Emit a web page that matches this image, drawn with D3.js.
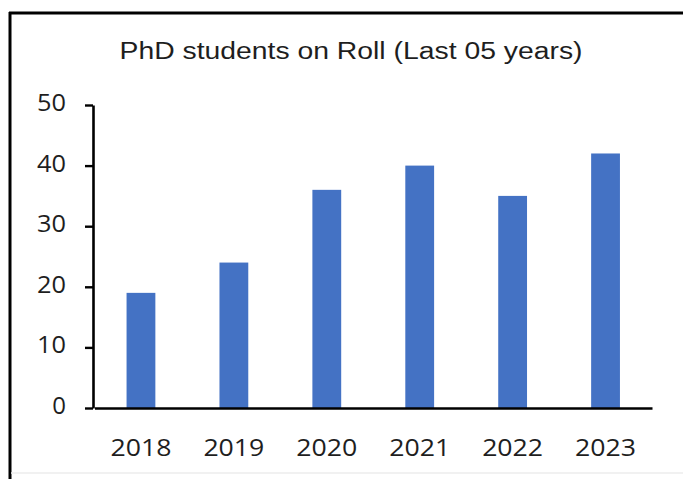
<!DOCTYPE html>
<html>
<head>
<meta charset="utf-8">
<script src="https://cdn.jsdelivr.net/npm/d3@7"></script>
<style>
  html, body { margin: 0; padding: 0; background: #ffffff; }
  svg { display: block; }
</style>
</head>
<body>
<svg id="chart" width="683" height="479"></svg>
<script>
// PhD students on roll per year
const years = ["2018", "2019", "2020", "2021", "2022", "2023"];
const students = [19, 24, 36, 40, 35, 42];
const yTicks = [0, 10, 20, 30, 40, 50];
const title = "PhD students on Roll (Last 05 years)";

const W = 683, H = 479;
const svg = d3.select("#chart");

// Frame: heavy rule on the top and left, faint rule along the bottom
svg.append("rect").attr("x", 0).attr("y", 0).attr("width", W).attr("height", H).attr("fill", "#ffffff");
svg.append("line").attr("x1", 9).attr("x2", W).attr("y1", 13).attr("y2", 13)
  .attr("stroke", "#000").attr("stroke-width", 3);
svg.append("line").attr("x1", 10).attr("x2", 10).attr("y1", 12).attr("y2", H)
  .attr("stroke", "#000").attr("stroke-width", 3);
svg.append("line").attr("x1", 11).attr("x2", W).attr("y1", 473).attr("y2", 473)
  .attr("stroke", "#ececec").attr("stroke-width", 1.5);

// Title
svg.append("text")
  .attr("x", 351).attr("y", 59)
  .attr("text-anchor", "middle")
  .attr("font-family", "'Liberation Sans', Arial, sans-serif")
  .attr("font-size", 23)
  .attr("fill", "#1e1e1e")
  .attr("textLength", 463)
  .attr("lengthAdjust", "spacingAndGlyphs")
  .text(title);

// Scales
const x = d3.scaleBand().domain(years).range([94.5, 652]).paddingInner(0.69).paddingOuter(0.345);
const y = d3.scaleLinear().domain([0, 50]).range([408, 105]);

// Bars
svg.append("g").selectAll("rect")
  .data(years.map((yr, i) => ({ yr, v: students[i] })))
  .join("rect")
  .attr("x", d => x(d.yr))
  .attr("width", x.bandwidth())
  .attr("y", d => y(d.v))
  .attr("height", d => y(0) - y(d.v))
  .attr("fill", "#4472c4");

const labelFont = "'Open Sans', Lato, sans-serif";

// X axis
const gx = svg.append("g").attr("transform", `translate(0,${y(0)})`)
  .call(d3.axisBottom(x).tickSize(0).tickSizeOuter(0));
gx.select(".domain").attr("stroke", "#000").attr("stroke-width", 2.6);
gx.selectAll("text")
  .attr("y", 48).attr("dy", 0)
  .attr("font-family", labelFont).attr("font-size", 24.5)
  .attr("fill", "#1e1e1e")
  .attr("textLength", 61)
  .attr("lengthAdjust", "spacingAndGlyphs");

// Y axis
const gy = svg.append("g").attr("transform", "translate(93,0)")
  .call(d3.axisLeft(y).tickValues(yTicks).tickSize(8).tickSizeOuter(0));
gy.select(".domain").attr("stroke", "#000").attr("stroke-width", 2.6);
gy.selectAll(".tick line").attr("stroke", "#000").attr("stroke-width", 2.4);
gy.selectAll("text")
  .attr("x", -27).attr("dy", 0).attr("y", 5.5)
  .attr("font-family", labelFont).attr("font-size", 24)
  .attr("fill", "#1e1e1e")
  .each(function (d) {
    if (String(d).length > 1) {
      d3.select(this).attr("textLength", 29).attr("lengthAdjust", "spacingAndGlyphs");
    }
  });
</script>
</body>
</html>
